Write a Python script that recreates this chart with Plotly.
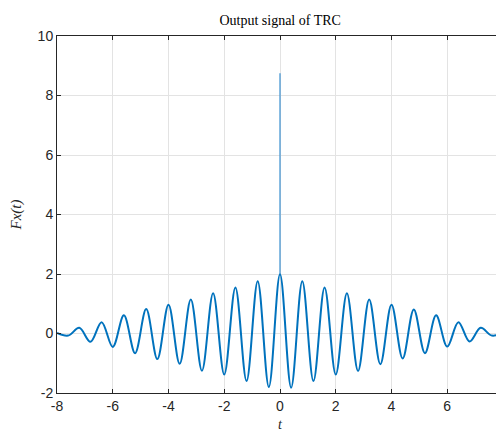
import plotly.graph_objects as go

# Extrema of the output signal (t, value)
t_pts = [-8.0, -7.6, -7.2, -6.8, -6.4, -6.0, -5.6, -5.2, -4.8, -4.4, -4.0, -3.6, -3.2, -2.8, -2.4, -2.0,
         -1.6, -1.2, -0.8, -0.4, 0.0, 0.4, 0.8, 1.2, 1.6, 2.0, 2.4, 2.8, 3.2, 3.6, 4.0, 4.4, 4.8,
         5.2, 5.6, 6.0, 6.4, 6.8, 7.2, 7.6, 8.0]
fx_pts = [0.02, -0.07, 0.19, -0.28, 0.38, -0.45, 0.61, -0.66, 0.82, -0.86, 0.97, -1.02, 1.14, -1.25, 1.35, -1.38,
          1.55, -1.6, 1.76, -1.8, 1.99, -1.82, 1.76, -1.6, 1.55, -1.38, 1.35, -1.26, 1.14, -1.03, 0.97, -0.84, 0.81,
          -0.66, 0.61, -0.44, 0.38, -0.27, 0.19, -0.07, 0.02]

# Narrow spike at t = 0
spike_t = [0.0, 0.0]
spike_y = [1.99, 8.75]

x_ticks = [-8, -6, -4, -2, 0, 2, 4, 6, 8]
y_ticks = [-2, 0, 2, 4, 6, 8, 10]

blue = "#0072BD"
fig = go.Figure()
fig.add_trace(go.Scatter(x=t_pts, y=fx_pts, mode="lines",
                         line=dict(color=blue, width=2.0, shape="spline", smoothing=1.0),
                         hoverinfo="skip", showlegend=False))
fig.add_trace(go.Scatter(x=spike_t, y=spike_y, mode="lines",
                         line=dict(color="#3a8fd0", width=1.2),
                         hoverinfo="skip", showlegend=False))

axis_common = dict(showline=True, linecolor="#262626", linewidth=1, mirror="ticks",
                   ticks="inside", ticklen=4, tickcolor="#262626",
                   showgrid=True, gridcolor="#e3e3e3", gridwidth=1, zeroline=False,
                   tickfont=dict(family="Liberation Sans, Arial, sans-serif", size=14, color="#262626"))

fig.update_layout(
    width=504, height=432,
    margin=dict(l=45, r=5, t=28, b=47),
    paper_bgcolor="white", plot_bgcolor="white",
    title=dict(text="Output signal of TRC", x=0.54, xanchor="center", y=0.972, yanchor="middle",
               font=dict(family="Liberation Serif, Times New Roman, serif", size=14, color="#000000")),
    xaxis=dict(range=[-8, 8], tickvals=x_ticks, ticktext=[str(v) for v in x_ticks],
               title=dict(text="<i>t</i>", standoff=6,
                          font=dict(family="Liberation Serif, Times New Roman, serif", size=14, color="#262626")),
               **axis_common),
    yaxis=dict(range=[-2, 10], tickvals=y_ticks, ticktext=[str(v) for v in y_ticks],
               title=dict(text="<i>Fx(t)</i>", standoff=14,
                          font=dict(family="Liberation Serif, Times New Roman, serif", size=15, color="#262626")),
               **axis_common),
)

fig.write_html("out.html")
